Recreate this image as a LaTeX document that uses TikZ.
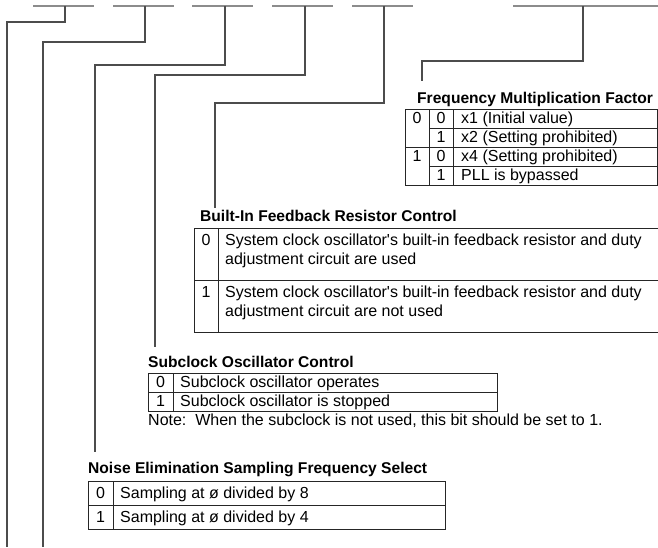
\documentclass[tikz,border=0pt]{standalone}
\usepackage{fontspec}
\setmainfont{Liberation Sans}
\usetikzlibrary{positioning}

\begin{document}
\begin{tikzpicture}[x=1pt,y=-1pt,
 txt/.style={anchor=base west,inner sep=0pt,font=\fontsize{16}{18}\selectfont},
 bitval/.style={anchor=base,inner sep=0pt,font=\fontsize{16}{18}\selectfont},
 title/.style={txt,font=\fontsize{15.6}{18}\selectfont\bfseries},
 field/.style={draw=black!45,line width=1.3pt},
 lead/.style={draw=black!70,line width=1.1pt},
 grid/.style={draw=black!85,line width=0.9pt}]
\useasboundingbox (0,0) rectangle (658,547);
% bit fields
\foreach \x in {33,113,192,272,352} \draw[field] (\x,6) -- ++(61,0);
\draw[field] (513,6) -- (658,6);
\coordinate (b0) at (65,6);
\coordinate (b1) at (145,6);
\coordinate (b2) at (225,6);
\coordinate (b3) at (305,6);
\coordinate (b4) at (384,6);
\coordinate (b5) at (583,6);
\coordinate (e0) at (7,547);
\coordinate (e1) at (43,547);
\coordinate (e2) at (95,452);
\coordinate (e3) at (155,347);
\coordinate (e4) at (215,208);
\coordinate (e5) at (422,81);
\draw[lead] (b0) -- ++(0,16) -| (e0);
\draw[lead] (b1) -- ++(0,36) -| (e1);
\draw[lead] (b2) -- ++(0,59) -| (e2);
\draw[lead] (b3) -- ++(0,69) -| (e3);
\draw[lead] (b4) -- ++(0,97) -| (e4);
\draw[lead] (b5) -- ++(0,55) -| (e5);

% Frequency Multiplication Factor
\node[title] (fmtitle) at (417,103) {Frequency Multiplication Factor};
\draw[grid] (405,109) rectangle (657,185);
\draw[grid] (429,109) -- (429,185) (453,109) -- (453,185);
\draw[grid] (405,147) -- (657,147);
\draw[grid] (429,128) -- (657,128) (429,166) -- (657,166);
\node[bitval] (fma0) at (417,123.5) {0};
\node[bitval] (fma1) at (417,161.5) {1};
\node[bitval] (fmb0) at (441,123.5) {0};
\node[bitval] (fmb1) at (441,142.5) {1};
\node[bitval] (fmb2) at (441,161.5) {0};
\node[bitval] (fmb3) at (441,180.5) {1};
\node[txt] (fm0) at (461,123.5) {x1 (Initial value)};
\node[txt] (fm1) at (461,142.5) {x2 (Setting prohibited)};
\node[txt] (fm2) at (461,161.5) {x4 (Setting prohibited)};
\node[txt] (fm3) at (461,180.5) {PLL is bypassed};

% Built-In Feedback Resistor Control
\node[title] (fbtitle) at (200,221) {Built-In Feedback Resistor Control};
\draw[grid] (658,228) -- (194,228) -- (194,332) -- (658,332);
\draw[grid] (218,228) -- (218,332);
\draw[grid] (194,280) -- (658,280);
\node[bitval] (fba) at (206,245) {0};
\node[bitval] (fbb) at (206,297) {1};
\node[txt] (fb0a) at (225,245) {System clock oscillator\textquotesingle s built-in feedback resistor and duty};
\node[txt] (fb0b) at (225,264) {adjustment circuit are used};
\node[txt] (fb1a) at (225,297) {System clock oscillator\textquotesingle s built-in feedback resistor and duty};
\node[txt] (fb1b) at (225,316) {adjustment circuit are not used};

% Subclock Oscillator Control
\node[title] (sctitle) at (148,367) {Subclock Oscillator Control};
\draw[grid] (148,373) rectangle (497,411);
\draw[grid] (173,373) -- (173,411);
\draw[grid] (148,392) -- (497,392);
\node[bitval] (sca) at (160.5,387) {0};
\node[bitval] (scb) at (160.5,406) {1};
\node[txt] (sc0) at (180,387) {Subclock oscillator operates};
\node[txt] (sc1) at (180,406) {Subclock oscillator is stopped};
\node[txt] (scnote) at (148,425) {Note:\ \ When the subclock is not used, this bit should be set to 1.};

% Noise Elimination Sampling Frequency Select
\node[title] (nstitle) at (88,473) {Noise Elimination Sampling Frequency Select};
\draw[grid] (88,481) rectangle (445,529);
\draw[grid] (113,481) -- (113,529);
\draw[grid] (88,505) -- (445,505);
\node[bitval] (nsa) at (100.5,498) {0};
\node[bitval] (nsb) at (100.5,522) {1};
\node[txt] (ns0) at (120,498) {Sampling at ø divided by 8};
\node[txt] (ns1) at (120,522) {Sampling at ø divided by 4};
\end{tikzpicture}
\end{document}
